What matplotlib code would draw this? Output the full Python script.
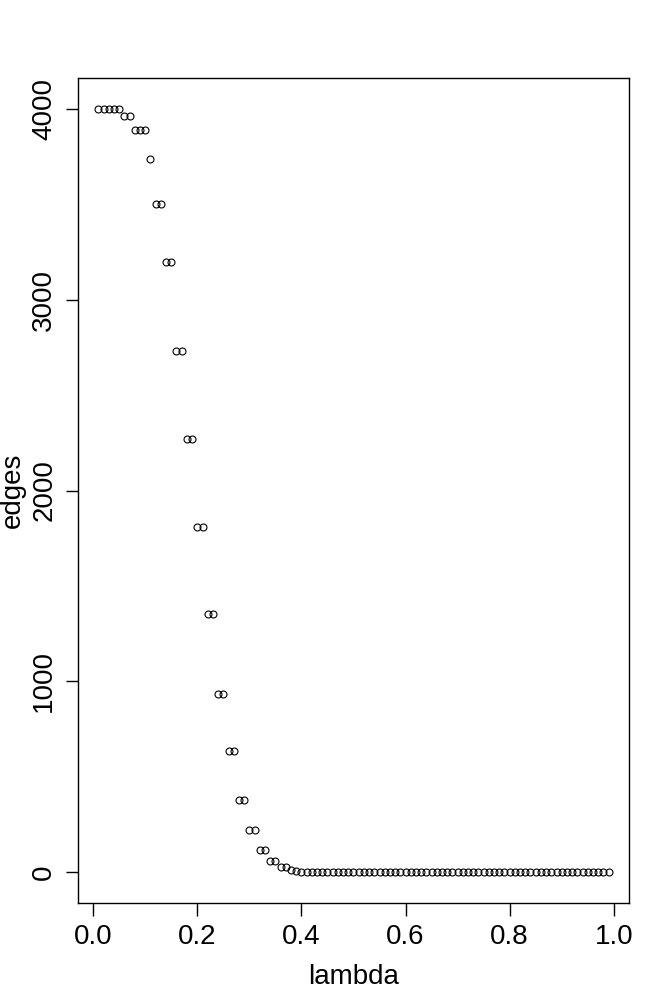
import numpy as np
import matplotlib
matplotlib.use("Agg")
import matplotlib.pyplot as plt

# lambda grid 0.01 .. 0.99
lam = np.round(np.linspace(0.01, 0.99, 99), 2)

# number of edges for each lambda
edges = [4000, 4000, 4000, 3999, 3997,
         3963, 3963,
         3890, 3890, 3890,
         3735,
         3500, 3500,
         3197, 3197,
         2733, 2733,
         2270, 2270,
         1809, 1809,
         1353, 1353,
         936, 936,
         635, 635,
         378, 378,
         220, 220,
         115, 115,
         58, 58,
         27, 27,
         12, 10,
         0, 0, 0, 0, 0, 0, 0, 0, 0, 0,
         0, 0, 0, 0, 0, 0, 0, 0, 0, 0,
         0, 0, 0, 0, 0, 0, 0, 0, 0, 0,
         0, 0, 0, 0, 0, 0, 0, 0, 0, 0,
         0, 0, 0, 0, 0, 0, 0, 0, 0, 0,
         0, 0, 0, 0, 0, 0, 0, 0, 0, 0]

xticks = [0.0, 0.2, 0.4, 0.6, 0.8, 1.0]
yticks = [0, 1000, 2000, 3000, 4000]

plt.rcParams['font.family'] = ['Liberation Sans', 'DejaVu Sans']

fig = plt.figure(figsize=(6.7, 10), dpi=100)
ax = fig.add_axes([0.1164, 0.097, 0.9388 - 0.1164, 0.922 - 0.097])

ax.plot(lam, edges, linestyle="none", marker="o", markersize=5,
        markerfacecolor="none", markeredgecolor="black", markeredgewidth=0.8)

# R style 4% padding
xr = max(lam) - min(lam)
ax.set_xlim(min(lam) - 0.04 * xr, max(lam) + 0.04 * xr)
yr = max(edges) - min(edges)
ax.set_ylim(min(edges) - 0.04 * yr, max(edges) + 0.04 * yr)

ax.set_xticks(xticks)
ax.set_xticklabels(["%.1f" % v for v in xticks])
ax.set_yticks(yticks)
ax.set_yticklabels([str(v) for v in yticks], rotation=90, va="center")
ax.tick_params(axis="both", direction="out", length=9, width=1,
               labelsize=20, pad=6)

for s in ax.spines.values():
    s.set_linewidth(1)

ax.set_xlabel("lambda", fontsize=20, labelpad=10)
ax.set_ylabel("edges", fontsize=20)
ax.yaxis.set_label_coords(-0.094, 0.5)

fig.savefig("out.png", dpi=100)
